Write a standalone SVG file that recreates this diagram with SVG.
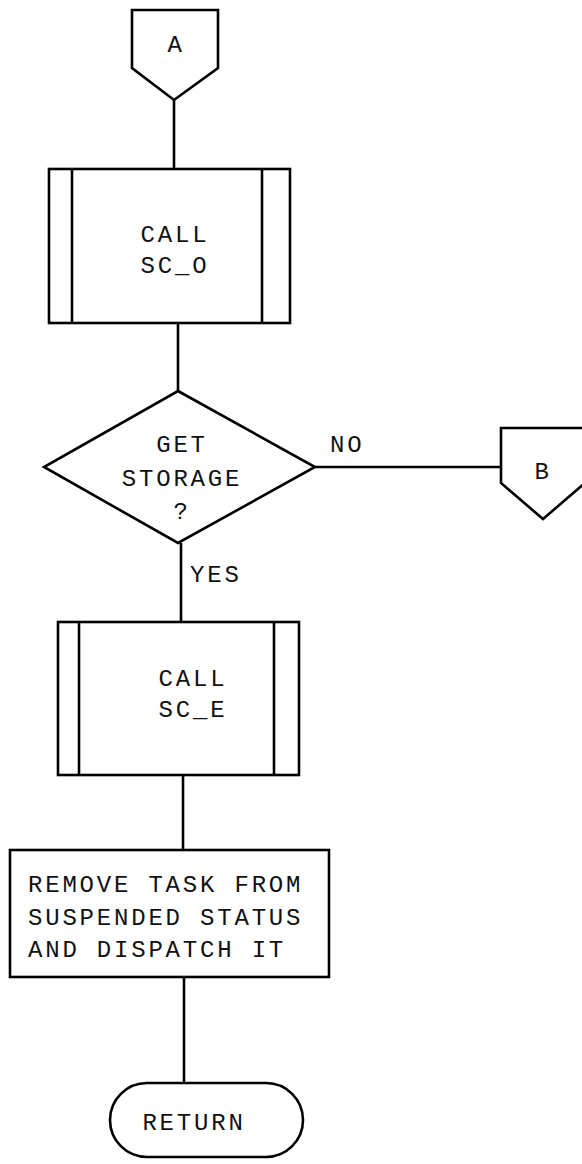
<svg xmlns="http://www.w3.org/2000/svg" width="582" height="1164" viewBox="0 0 582 1164">
<style>
.s{fill:#fff;stroke:#000;stroke-width:2.6;stroke-linejoin:miter}
.l{fill:none;stroke:#000;stroke-width:2.6}
.t{font-family:"Liberation Mono","DejaVu Sans Mono",monospace;font-size:24px;letter-spacing:2.8px;fill:#111;text-anchor:middle}
.lt{font-family:"Liberation Mono","DejaVu Sans Mono",monospace;font-size:24px;letter-spacing:2.8px;fill:#111}
</style>
<rect width="582" height="1164" fill="#fff"/>
<g id="connectors">
<line class="l" x1="174" y1="100" x2="174" y2="169"/>
<line class="l" x1="178" y1="323" x2="178" y2="391"/>
<line class="l" x1="315" y1="467" x2="501" y2="467"/>
<line class="l" x1="181" y1="543" x2="181" y2="622"/>
<line class="l" x1="183" y1="775" x2="183" y2="850"/>
<line class="l" x1="184" y1="977" x2="184" y2="1083"/>
<text class="lt" x="330" y="452">NO</text>
<text class="lt" x="190" y="582">YES</text>
</g>
<g id="connA">
<polygon class="s" points="132,10 218,10 218,68 174,100 132,68"/>
<text class="t" x="176" y="52" font-size="17">A</text>
</g>
<g id="call_sc_o">
<rect class="s" x="49" y="169" width="241" height="154"/>
<line class="l" x1="72" y1="169" x2="72" y2="323"/>
<line class="l" x1="262" y1="169" x2="262" y2="323"/>
<text class="t" x="175" y="242">CALL</text>
<text class="t" x="175" y="273">SC_O</text>
</g>
<g id="get_storage">
<polygon class="s" points="178,391 315,467 178,543 44,467"/>
<text class="t" x="182" y="452">GET</text>
<text class="t" x="182" y="486">STORAGE</text>
<text class="t" x="182" y="519">?</text>
</g>
<g id="connB">
<polygon class="s" points="501,428 585,428 585,483 543,519 501,483"/>
<text class="t" x="543" y="479">B</text>
</g>
<g id="call_sc_e">
<rect class="s" x="58" y="622" width="241" height="153"/>
<line class="l" x1="79" y1="622" x2="79" y2="775"/>
<line class="l" x1="274" y1="622" x2="274" y2="775"/>
<text class="t" x="193" y="686">CALL</text>
<text class="t" x="193" y="717">SC_E</text>
</g>
<g id="remove_task">
<rect class="s" x="10" y="850" width="319" height="127" stroke-width="2.2"/>
<text class="lt" x="28" y="892">REMOVE TASK FROM</text>
<text class="lt" x="28" y="925">SUSPENDED STATUS</text>
<text class="lt" x="28" y="957">AND DISPATCH IT</text>
</g>
<g id="return">
<rect class="s" x="110" y="1083" width="193" height="74" rx="37" ry="37"/>
<text class="t" x="194" y="1130">RETURN</text>
</g>
</svg>
